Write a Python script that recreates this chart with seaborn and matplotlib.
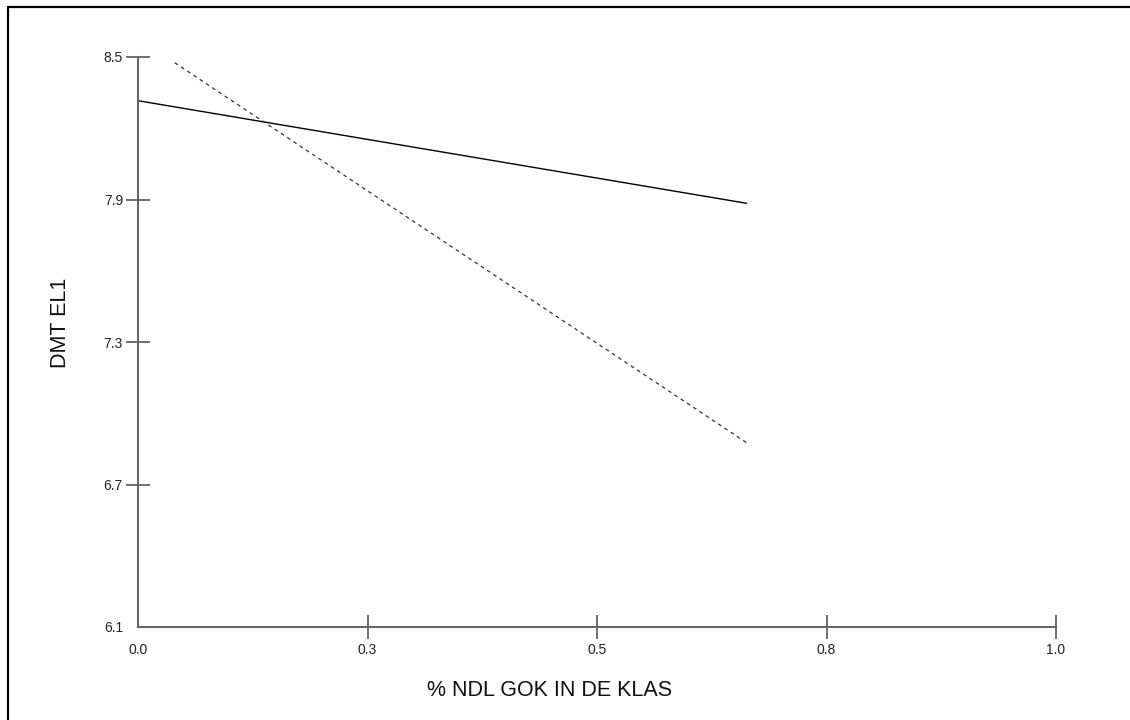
import matplotlib
matplotlib.use("Agg")
import matplotlib.pyplot as plt
import seaborn as sns
import pandas as pd
from matplotlib.lines import Line2D

sns.set_style("white")
plt.rcParams['font.family'] = ['Liberation Sans', 'DejaVu Sans']

# data
solid_x = [0.0, 0.663]
solid_y = [8.316, 7.884]
dash_x = [0.040, 0.663]
dash_y = [8.476, 6.876]
x_ticks = [0.0, 0.25, 0.5, 0.75, 1.0]
x_tick_labels = ["0.0", "0.3", "0.5", "0.8", "1.0"]
y_ticks = [6.1, 6.7, 7.3, 7.9, 8.5]
y_tick_labels = ["6.1", "6.7", "7.3", "7.9", "8.5"]

fig = plt.figure(figsize=(11.3, 7.2), dpi=100)
fig.patch.set_facecolor('white')
ax = fig.add_axes([138/1130, 93/720, (1056-138)/1130, (627-57)/720])

sns.lineplot(x=solid_x, y=solid_y, ax=ax, color='black', linewidth=1.0)
sns.lineplot(x=dash_x, y=dash_y, ax=ax, color='#333333', linewidth=0.9,
             linestyle=(0, (3, 3)))

ax.set_xlim(0, 1.0)
ax.set_ylim(6.1, 8.5)
ax.set_xticks(x_ticks)
ax.set_xticklabels(x_tick_labels, fontsize=10)
ax.set_yticks(y_ticks)
ax.set_yticklabels(y_tick_labels, fontsize=10)
ax.tick_params(axis='both', direction='inout', length=17.3, width=1.2,
               color='#555555', labelcolor='#222222', left=True, bottom=True)
ax.tick_params(axis='y', pad=2.2)
ax.tick_params(axis='x', pad=3)
ax.xaxis.get_major_ticks()[0].tick1line.set_visible(False)
ax.yaxis.get_major_ticks()[0].tick1line.set_visible(False)

for s in ['top', 'right']:
    ax.spines[s].set_visible(False)
for s in ['left', 'bottom']:
    ax.spines[s].set_color('#666666')
    ax.spines[s].set_linewidth(1.5)

ax.set_xlabel("")
ax.set_ylabel("")
fig.text(550/1130, 1 - 690/720, "% NDL GOK IN DE KLAS", fontsize=15.5,
         ha='center', va='center', color='#111111')
fig.text(60/1130, 1 - 323/720, "DMT EL1", fontsize=15.5, rotation=90,
         ha='center', va='center', color='#111111')

# frame lines on top and left
fig.add_artist(Line2D([8/1130, 1.0], [1 - 7/720, 1 - 7/720], color='black',
                      linewidth=1.6, transform=fig.transFigure))
fig.add_artist(Line2D([8/1130, 8/1130], [0, 1 - 7/720], color='black',
                      linewidth=1.6, transform=fig.transFigure))

fig.savefig("out.png", dpi=100, facecolor='white')
